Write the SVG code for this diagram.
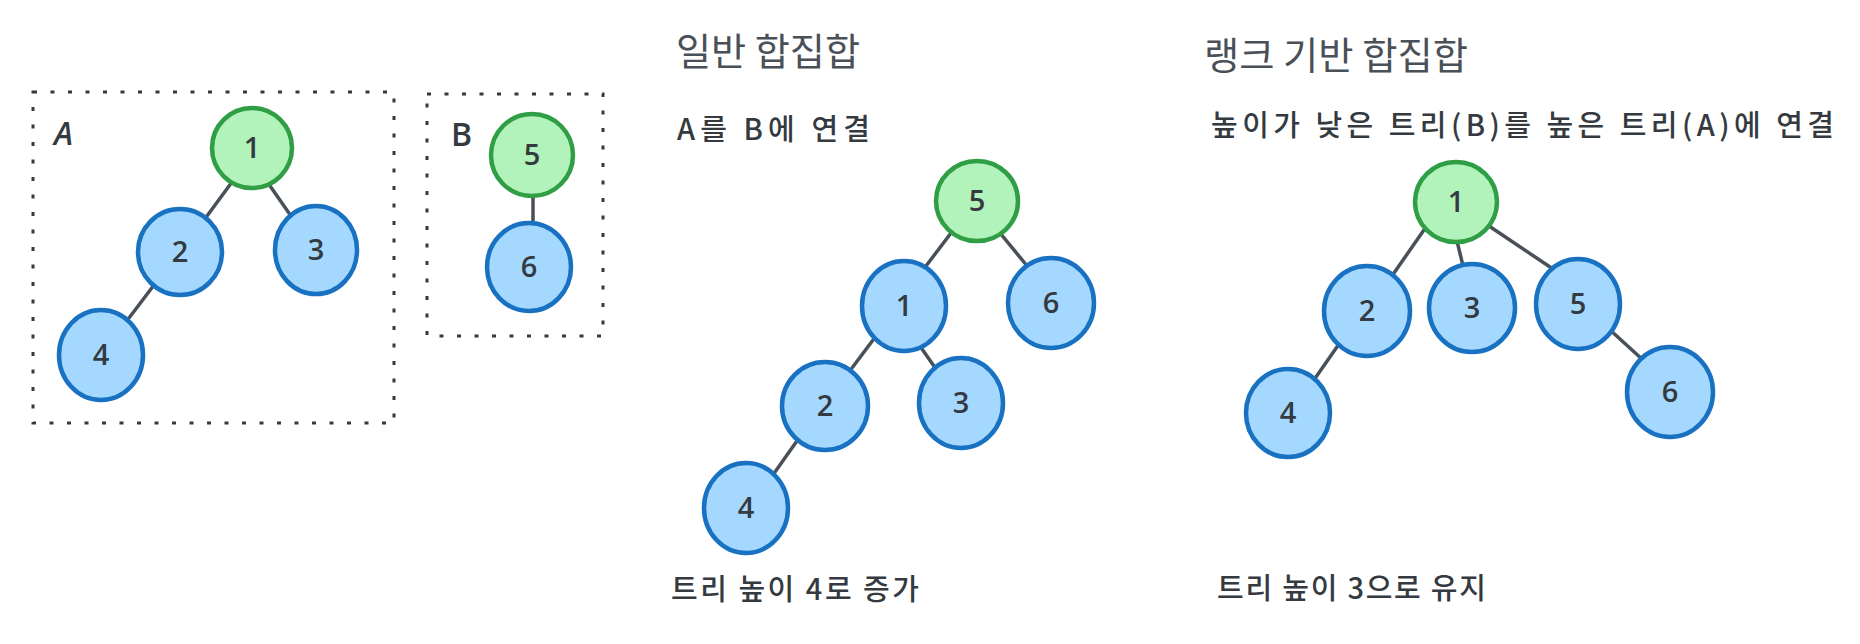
<svg xmlns="http://www.w3.org/2000/svg" width="1860" height="644" viewBox="0 0 1860 644">
<style>
.root{fill:#b2f2bb;stroke:#2f9e44;stroke-width:4.5}
.node{fill:#a5d8ff;stroke:#1971c2;stroke-width:4.5}
.num{font-family:"Open Sans","Noto Sans",sans-serif;font-size:29px;font-weight:600;fill:#343a40;text-anchor:middle}
.edge{stroke:#495057;stroke-width:3.5;stroke-linecap:round;fill:none}
.box{fill:none;stroke:#343a40;stroke-width:3;stroke-dasharray:4 13.5}
.title{font-family:"Noto Sans CJK KR","Noto Sans",sans-serif;font-size:38px;fill:#495057}
.txt{font-family:"Noto Sans CJK KR","Noto Sans",sans-serif;font-size:29px;font-weight:500;fill:#343a40}
.lbl{font-family:"Open Sans","Noto Sans",sans-serif;font-size:32px;font-weight:600;fill:#343a40}
</style>
<g id="group-A">
<rect class="box" x="33" y="92" width="361" height="331"/>
<text class="lbl" x="54" y="145" font-style="italic">A</text>
</g>
<g id="group-B">
<rect class="box" x="427" y="94" width="176" height="242"/>
<text class="lbl" x="451" y="146">B</text>
</g>
<g id="connectors">
<line class="edge" x1="232" y1="182" x2="207" y2="216"/>
<line class="edge" x1="268" y1="183" x2="291" y2="216"/>
<line class="edge" x1="154" y1="285" x2="129" y2="318"/>
<line class="edge" x1="533" y1="195" x2="533" y2="228"/>
<line class="edge" x1="951" y1="233" x2="926" y2="266"/>
<line class="edge" x1="1000" y1="233" x2="1028" y2="267"/>
<line class="edge" x1="873" y1="340" x2="852" y2="368"/>
<line class="edge" x1="922" y1="349" x2="936" y2="369"/>
<line class="edge" x1="799" y1="438" x2="775" y2="472"/>
<line class="edge" x1="1426" y1="227" x2="1394" y2="273"/>
<line class="edge" x1="1457" y1="241" x2="1464" y2="270"/>
<line class="edge" x1="1489" y1="226" x2="1553" y2="269"/>
<line class="edge" x1="1339" y1="344" x2="1316" y2="377"/>
<line class="edge" x1="1609" y1="329" x2="1643" y2="360"/>
</g>
<g id="left-n1"><ellipse class="root" cx="252" cy="148" rx="40" ry="40"/><text class="num" x="252" y="158">1</text></g>
<g id="left-n2"><ellipse class="node" cx="180" cy="252" rx="42" ry="43"/><text class="num" x="180" y="262">2</text></g>
<g id="left-n3"><ellipse class="node" cx="316" cy="250" rx="41" ry="44"/><text class="num" x="316" y="260">3</text></g>
<g id="left-n4"><ellipse class="node" cx="101" cy="355" rx="42" ry="45"/><text class="num" x="101" y="365">4</text></g>
<g id="left-n5"><ellipse class="root" cx="532" cy="155" rx="41" ry="41"/><text class="num" x="532" y="165">5</text></g>
<g id="left-n6"><ellipse class="node" cx="529" cy="267" rx="42" ry="44"/><text class="num" x="529" y="277">6</text></g>
<g id="mid-n5"><ellipse class="root" cx="977" cy="201" rx="41" ry="40"/><text class="num" x="977" y="211">5</text></g>
<g id="mid-n1"><ellipse class="node" cx="904" cy="306" rx="42" ry="45"/><text class="num" x="904" y="316">1</text></g>
<g id="mid-n6"><ellipse class="node" cx="1051" cy="303" rx="43" ry="45"/><text class="num" x="1051" y="313">6</text></g>
<g id="mid-n2"><ellipse class="node" cx="825" cy="406" rx="43" ry="44"/><text class="num" x="825" y="416">2</text></g>
<g id="mid-n3"><ellipse class="node" cx="961" cy="403" rx="42" ry="45"/><text class="num" x="961" y="413">3</text></g>
<g id="mid-n4"><ellipse class="node" cx="746" cy="508" rx="42" ry="45"/><text class="num" x="746" y="518">4</text></g>
<g id="right-n1"><ellipse class="root" cx="1456" cy="202" rx="41" ry="40"/><text class="num" x="1456" y="212">1</text></g>
<g id="right-n2"><ellipse class="node" cx="1367" cy="311" rx="43" ry="45"/><text class="num" x="1367" y="321">2</text></g>
<g id="right-n3"><ellipse class="node" cx="1472" cy="308" rx="43" ry="44"/><text class="num" x="1472" y="318">3</text></g>
<g id="right-n5"><ellipse class="node" cx="1578" cy="304" rx="42" ry="45"/><text class="num" x="1578" y="314">5</text></g>
<g id="right-n4"><ellipse class="node" cx="1288" cy="413" rx="42" ry="44"/><text class="num" x="1288" y="423">4</text></g>
<g id="right-n6"><ellipse class="node" cx="1670" cy="392" rx="43" ry="45"/><text class="num" x="1670" y="402">6</text></g>
<g id="texts">
<text class="title" x="676" y="65" textLength="184" lengthAdjust="spacingAndGlyphs">일반 합집합</text>
<text class="txt" x="677" y="140" textLength="193" lengthAdjust="spacing">A를 B에 연결</text>
<text class="title" x="1204" y="69" textLength="264" lengthAdjust="spacingAndGlyphs">랭크 기반 합집합</text>
<text class="txt" x="1211" y="136" textLength="623" lengthAdjust="spacing">높이가 낮은 트리(B)를 높은 트리(A)에 연결</text>
<text class="txt" x="671" y="600" textLength="248" lengthAdjust="spacing">트리 높이 4로 증가</text>
<text class="txt" x="1217" y="599" textLength="269" lengthAdjust="spacing">트리 높이 3으로 유지</text>
</g>
</svg>
